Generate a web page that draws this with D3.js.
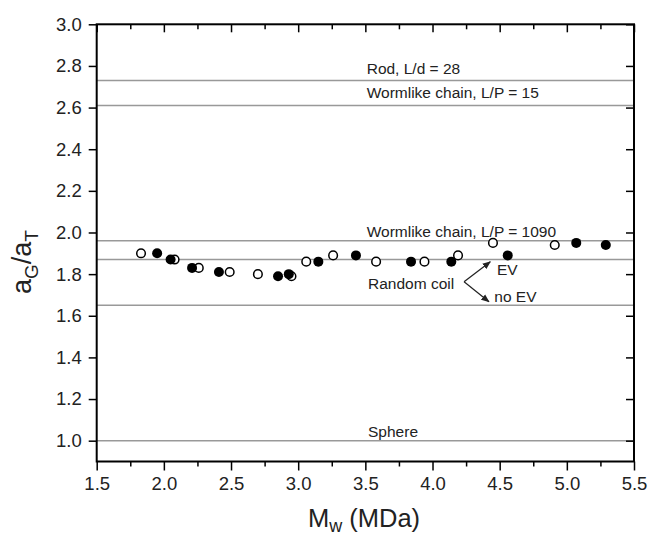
<!DOCTYPE html>
<html>
<head>
<meta charset="utf-8">
<script src="https://cdn.jsdelivr.net/npm/d3@7"></script>
<style>
  body { margin: 0; background: #fff; }
  svg { font-family: "Liberation Sans", Arial, sans-serif; }
</style>
</head>
<body>
<svg id="chart" width="649" height="537"></svg>
<script>
// data
var openX = [1.83, 2.08, 2.26, 2.49, 2.70, 2.95, 3.06, 3.26, 3.58, 3.94, 4.19, 4.45, 4.91];
var openY = [1.90, 1.87, 1.83, 1.81, 1.80, 1.79, 1.86, 1.89, 1.86, 1.86, 1.89, 1.95, 1.94];
var filledX = [1.95, 2.05, 2.21, 2.41, 2.85, 2.93, 3.15, 3.43, 3.84, 4.14, 4.56, 5.07, 5.29];
var filledY = [1.90, 1.87, 1.83, 1.81, 1.79, 1.80, 1.86, 1.89, 1.86, 1.86, 1.89, 1.95, 1.94];

var refValues = [2.73, 2.61, 1.96, 1.87, 1.65, 1.00];
var xTicks = [1.5, 2.0, 2.5, 3.0, 3.5, 4.0, 4.5, 5.0, 5.5];
var yTicks = [1.0, 1.2, 1.4, 1.6, 1.8, 2.0, 2.2, 2.4, 2.6, 2.8, 3.0];

var svg = d3.select("#chart");
var pLeft = 96.7, pRight = 634, pTop = 24.3, pBottom = 461.5;

var x = d3.scaleLinear().domain([1.5, 5.5]).range([pLeft, pRight]);
var y = d3.scaleLinear().domain([0.9, 3.0]).range([pBottom, pTop]);

// reference lines
svg.append("g").selectAll("line").data(refValues).enter().append("line")
  .attr("x1", pLeft).attr("x2", pRight)
  .attr("y1", function(d) { return y(d); })
  .attr("y2", function(d) { return y(d); })
  .attr("stroke", "#999").attr("stroke-width", 1.5);

// axes
var minorX = d3.range(1.75, 5.5, 0.5);
function styleAxis(g) {
  g.attr("font-size", 18.5).attr("font-family", null);
  g.select(".domain").remove();
  g.selectAll("line").attr("stroke", "#000").attr("stroke-width", 1.5);
  g.selectAll("text").attr("fill", "#222");
}
svg.append("g").attr("transform", "translate(0," + pBottom + ")")
  .call(d3.axisBottom(x).tickValues(xTicks).tickFormat(d3.format(".1f")).tickSize(9).tickPadding(6))
  .call(styleAxis);
svg.append("g").attr("transform", "translate(0," + pBottom + ")")
  .call(d3.axisBottom(x).tickValues(minorX).tickFormat("").tickSize(5))
  .call(styleAxis);
svg.append("g").attr("transform", "translate(0," + pTop + ")")
  .call(d3.axisBottom(x).tickValues(xTicks).tickFormat("").tickSize(8))
  .call(styleAxis);
svg.append("g").attr("transform", "translate(0," + pTop + ")")
  .call(d3.axisBottom(x).tickValues(minorX).tickFormat("").tickSize(5))
  .call(styleAxis);
svg.append("g").attr("transform", "translate(" + pLeft + ",0)")
  .call(d3.axisLeft(y).tickValues(yTicks).tickFormat(d3.format(".1f")).tickSize(8).tickPadding(7))
  .call(styleAxis);
svg.append("g").attr("transform", "translate(" + pRight + ",0)")
  .call(d3.axisLeft(y).tickValues(yTicks).tickFormat("").tickSize(8))
  .call(styleAxis);

svg.append("rect").attr("x", pLeft).attr("y", pTop)
  .attr("width", pRight - pLeft).attr("height", pBottom - pTop)
  .attr("fill", "none").attr("stroke", "#000").attr("stroke-width", 2);

// annotations
var notes = [
  {t: "Rod, L/d = 28", x: 3.51, y: 2.76},
  {t: "Wormlike chain, L/P = 15", x: 3.51, y: 2.645},
  {t: "Wormlike chain, L/P = 1090", x: 3.51, y: 1.979},
  {t: "Random coil", x: 3.52, y: 1.728},
  {t: "EV", x: 4.48, y: 1.795},
  {t: "no EV", x: 4.46, y: 1.666},
  {t: "Sphere", x: 3.52, y: 1.018}
];
svg.append("g").selectAll("text").data(notes).enter().append("text")
  .attr("x", function(d) { return x(d.x); })
  .attr("y", function(d) { return y(d.y); })
  .attr("font-size", "15.5px").attr("fill", "#222")
  .text(function(d) { return d.t; });

// arrows
svg.append("defs").append("marker").attr("id", "ah")
  .attr("viewBox", "0 0 10 10").attr("refX", 9).attr("refY", 5)
  .attr("markerWidth", 7).attr("markerHeight", 7).attr("orient", "auto")
  .append("path").attr("d", "M0,1 L10,5 L0,9 z").attr("fill", "#222");
var vx = 4.235, vy = 1.763;
[[4.43, 1.859], [4.42, 1.667]].forEach(function(p) {
  svg.append("line")
    .attr("x1", x(vx)).attr("y1", y(vy))
    .attr("x2", x(p[0])).attr("y2", y(p[1]))
    .attr("stroke", "#222").attr("stroke-width", 1.2)
    .attr("marker-end", "url(#ah)");
});

// data points
svg.append("g").selectAll("circle").data(openX).enter().append("circle")
  .attr("cx", function(d) { return x(d); })
  .attr("cy", function(d, i) { return y(openY[i]); })
  .attr("r", 4.3).attr("fill", "#fff").attr("stroke", "#000").attr("stroke-width", 1.5);
svg.append("g").selectAll("circle").data(filledX).enter().append("circle")
  .attr("cx", function(d) { return x(d); })
  .attr("cy", function(d, i) { return y(filledY[i]); })
  .attr("r", 5).attr("fill", "#000");

// axis titles
var yl = svg.append("text").attr("transform", "translate(31,262) rotate(-90)")
  .attr("text-anchor", "middle").attr("font-size", "27px").attr("fill", "#222");
yl.append("tspan").text("a");
yl.append("tspan").attr("font-size", "19px").attr("dy", 7).text("G");
yl.append("tspan").attr("dy", -7).text("/a");
yl.append("tspan").attr("font-size", "19px").attr("dy", 7).text("T");

var xl = svg.append("text").attr("x", 364).attr("y", 527)
  .attr("text-anchor", "middle").attr("font-size", "25.5px").attr("fill", "#222");
xl.append("tspan").text("M");
xl.append("tspan").attr("font-size", "18px").attr("dy", 5).text("w");
xl.append("tspan").attr("dy", -5).text(" (MDa)");
</script>
</body>
</html>
